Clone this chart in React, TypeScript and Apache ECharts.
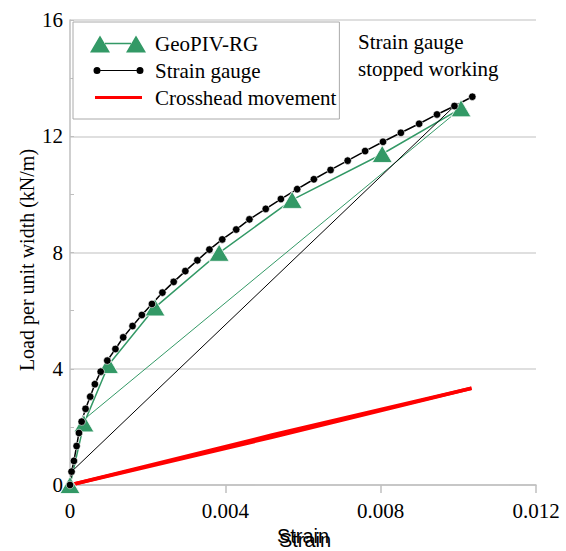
import React, { useEffect, useRef } from "react";
import * as echarts from "echarts";

const SERIF = "'Liberation Serif', 'Times New Roman', serif";
const SANS = "'Liberation Sans', Arial, sans-serif";

// GeoPIV-RG (strain, load)
const geoLoading: number[][] = [
  [0, 0], [0.00036, 2.12], [0.00099, 4.13], [0.00219, 6.11], [0.00384, 7.99],
  [0.00572, 9.81], [0.00804, 11.39], [0.01007, 12.96],
];
const geoUnloading: number[][] = [[0.01007, 12.96], [0.00043, 2.33]];

// Strain gauge (strain, load)
const gaugeLoading: number[][] = [
  [0, 0], [0.00004, 0.46], [0.0001, 0.83], [0.00017, 1.34], [0.00023, 1.79],
  [0.0003, 2.18], [0.0004, 2.62], [0.00052, 3.04], [0.00064, 3.47], [0.00079, 3.9],
  [0.00096, 4.28], [0.00117, 4.68], [0.00137, 5.08], [0.00161, 5.47], [0.00185, 5.85],
  [0.00211, 6.23], [0.00238, 6.62], [0.00267, 6.99], [0.00297, 7.36], [0.00328, 7.73],
  [0.00359, 8.1], [0.00392, 8.45], [0.00428, 8.79], [0.00462, 9.14], [0.00504, 9.5],
  [0.00543, 9.84], [0.00585, 10.18], [0.00628, 10.52], [0.00671, 10.84], [0.00715, 11.16],
  [0.0076, 11.49], [0.00806, 11.81], [0.00852, 12.12], [0.00899, 12.43], [0.00945, 12.75],
  [0.0099, 13.04], [0.01036, 13.36],
];
const gaugeUnloading: number[][] = [[0.0099, 13.04], [0.00004, 0.46]];

// Crosshead movement (strain, load)
const crossheadLoading: number[][] = [[0, 0], [0.0052, 1.64], [0.01034, 3.33]];
const crossheadUnloading: number[][] = [[0.01034, 3.33], [0.0052, 1.72], [0, 0]];

const xTicks = { min: 0, max: 0.012, interval: 0.004 };
const yTicks = { min: 0, max: 16, interval: 4 };

const GREEN = "#339966";
const AXIS_GRAY = "#bfbfbf";

// legend icons (56 x 18 boxes): two markers joined by a line, as in the reference
const ICON_GEO =
  "path://M0,0 L0,0 M56,18 L56,18 M0,18 L10,1 L20,18 Z M15,8.3 L41,8.3 L41,9.7 L15,9.7 Z M36,18 L46,1 L56,18 Z";
const ICON_GAUGE =
  "path://M0,0 L0,0 M56,18 L56,18 M3.5,9 A3.5,3.5 0 1 1 10.5,9 A3.5,3.5 0 1 1 3.5,9 Z M10.5,8.4 L46.5,8.4 L46.5,9.6 L10.5,9.6 Z M46.5,9 A3.5,3.5 0 1 1 53.5,9 A3.5,3.5 0 1 1 46.5,9 Z";
const ICON_CROSS = "path://M0,0 L0,0 M56,18 L56,18 M5,7.5 L52,7.5 L52,10.5 L5,10.5 Z";

export default function App() {
  const ref = useRef<HTMLDivElement>(null);
  useEffect(() => {
    document.body.style.margin = "0";
    if (!ref.current) return;
    const chart = echarts.init(ref.current, null, { renderer: "svg" });
    chart.setOption({
      animation: false,
      backgroundColor: "#ffffff",
      grid: { left: 70, right: 30, top: 20, bottom: 66, containLabel: false },
      legend: {
        data: [
          { name: "GeoPIV-RG", icon: ICON_GEO },
          { name: "Strain gauge", icon: ICON_GAUGE },
          { name: "Crosshead movement", icon: ICON_CROSS },
        ],
        orient: "vertical",
        left: 73,
        top: 22,
        backgroundColor: "#ffffff",
        borderColor: "#aaaaaa",
        borderWidth: 1,
        padding: [11, 3, 11, 17],
        itemGap: 6,
        itemWidth: 56,
        itemHeight: 18,
        itemStyle: { borderWidth: 0 },
        textStyle: { fontFamily: SERIF, fontSize: 21, color: "#000", padding: [0, 0, 0, 4] },
      },
      xAxis: {
        type: "value",
        min: xTicks.min,
        max: xTicks.max,
        interval: xTicks.interval,
        name: "Strain",
        nameLocation: "middle",
        nameGap: 37,
        nameTextStyle: { fontFamily: SANS, fontSize: 20, color: "#000" },
        axisLine: { show: true, lineStyle: { color: AXIS_GRAY, width: 1.5 } },
        axisTick: { show: true, length: 8, lineStyle: { color: AXIS_GRAY, width: 1.5 } },
        axisLabel: {
          fontFamily: SERIF,
          fontSize: 21,
          color: "#000",
          margin: 15,
          formatter: (v: number) => (v === 0 ? "0" : v.toFixed(3)),
        },
        splitLine: { show: false },
      },
      yAxis: {
        type: "value",
        min: yTicks.min,
        max: yTicks.max,
        interval: yTicks.interval,
        axisLine: { show: true, lineStyle: { color: AXIS_GRAY, width: 1.5 } },
        axisTick: { show: true, inside: true, length: 4, lineStyle: { color: AXIS_GRAY } },
        minorTick: { show: true, splitNumber: 2, length: 4, lineStyle: { color: AXIS_GRAY } },
        axisLabel: { fontFamily: SERIF, fontSize: 21, color: "#000", margin: 7 },
        splitLine: { show: true, lineStyle: { color: "#d4d4d4", width: 1.5 } },
      },
      graphic: [
        {
          type: "text",
          left: 358,
          top: 28,
          style: {
            text: "Strain gauge\nstopped working",
            fontFamily: SERIF,
            fontSize: 21,
            lineHeight: 27,
            fill: "#000",
          },
        },
        {
          type: "text",
          x: 27,
          y: 260,
          rotation: Math.PI / 2,
          style: {
            text: "Load per unit width (kN/m)",
            fontFamily: SERIF,
            fontSize: 20,
            fill: "#000",
            align: "center",
            verticalAlign: "middle",
          },
        },
        {
          type: "text",
          x: 305,
          y: 540,
          style: {
            text: "Strain",
            fontFamily: SANS,
            fontSize: 20,
            fill: "#000",
            align: "center",
            verticalAlign: "middle",
          },
        },
      ],
      series: [
        {
          name: "GeoPIV-RG",
          type: "line",
          data: geoLoading,
          symbol: "triangle",
          symbolSize: [20, 17],
          itemStyle: { color: GREEN, borderColor: "#ffffff", borderWidth: 0.8 },
          lineStyle: { color: GREEN, width: 1.5 },
        },
        {
          name: "GeoPIV-RG",
          type: "line",
          data: geoUnloading,
          symbol: "none",
          itemStyle: { color: GREEN },
          lineStyle: { color: GREEN, width: 1 },
        },
        {
          name: "Strain gauge",
          type: "line",
          data: gaugeLoading,
          symbol: "circle",
          symbolSize: 7.5,
          itemStyle: { color: "#000000", borderColor: "#ffffff", borderWidth: 0.6 },
          lineStyle: { color: "#000000", width: 1.5 },
        },
        {
          name: "Strain gauge",
          type: "line",
          data: gaugeUnloading,
          symbol: "none",
          itemStyle: { color: "#000000" },
          lineStyle: { color: "#000000", width: 1 },
        },
        {
          name: "Crosshead movement",
          type: "line",
          data: crossheadLoading,
          symbol: "none",
          itemStyle: { color: "#ff0000" },
          lineStyle: { color: "#ff0000", width: 3.5 },
        },
        {
          name: "Crosshead movement",
          type: "line",
          data: crossheadUnloading,
          symbol: "none",
          itemStyle: { color: "#ff0000" },
          lineStyle: { color: "#ff0000", width: 3.5 },
        },
      ],
    });
    return () => chart.dispose();
  }, []);
  return <div ref={ref} style={{ width: 566, height: 551 }} />;
}
